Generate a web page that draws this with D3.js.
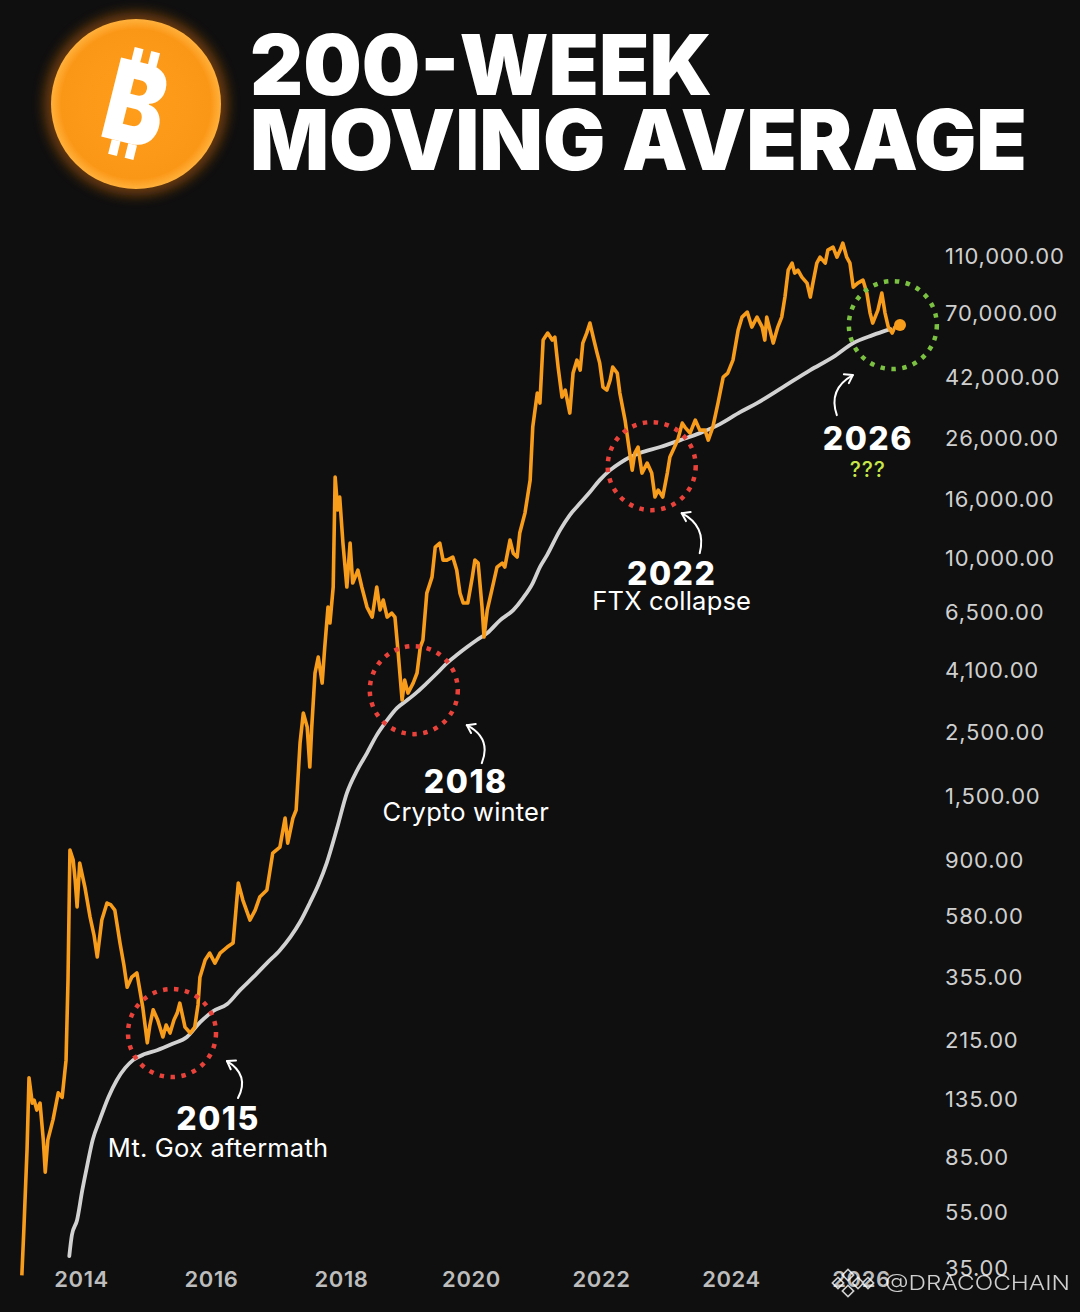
<!DOCTYPE html>
<html>
<head>
<meta charset="utf-8">
<script src="https://cdn.jsdelivr.net/npm/d3@7"></script>
<style>
html, body { margin: 0; padding: 0; background: #0f0f0f; }
svg { display: block; }
</style>
</head>
<body>
<svg id="chart" width="1080" height="1312"></svg>
<script>
// BTC price: [decimal year, USD]
var priceSeries = [
  [2013.09,33],[2013.12,47],[2013.17,90],[2013.20,159],[2013.25,130],[2013.28,133],[2013.32,123],[2013.37,130],
  [2013.42,97],[2013.45,75],[2013.49,97],[2013.57,114],[2013.65,141],[2013.71,136],[2013.77,183],[2013.80,346],
  [2013.83,974],[2013.88,899],[2013.91,767],[2013.94,619],[2013.98,878],
  [2014.06,725],[2014.14,571],[2014.20,495],[2014.25,416],[2014.32,558],[2014.40,639],[2014.46,629],[2014.52,604],
  [2014.60,465],[2014.66,390],[2014.71,327],[2014.78,354],[2014.86,366],[2014.95,279],
  [2015.02,210],[2015.06,242],[2015.11,273],[2015.18,252],[2015.26,220],[2015.31,242],[2015.37,227],[2015.43,252],
  [2015.48,266],[2015.52,288],[2015.60,238],[2015.68,227],[2015.75,238],[2015.80,284],[2015.83,354],[2015.91,406],[2015.98,429],
  [2016.06,396],[2016.14,429],[2016.25,450],[2016.34,465],[2016.42,749],[2016.49,654],[2016.60,558],[2016.68,604],
  [2016.75,670],[2016.86,709],[2016.95,951],
  [2017.06,997],[2017.14,1256],[2017.18,1029],[2017.26,1256],[2017.31,1339],[2017.37,2282],[2017.42,2896],[2017.48,2591],
  [2017.52,1885],[2017.55,2591],[2017.60,3983],[2017.65,4523],[2017.71,3677],[2017.75,4897],[2017.80,6733],[2017.83,5929],
  [2017.88,7896],[2017.91,18940],[2017.95,14570],[2017.98,16160],
  [2018.03,11200],[2018.09,7896],[2018.14,11200],[2018.18,8150],[2018.26,9036],[2018.32,7896],[2018.40,6733],[2018.48,6218],
  [2018.55,7896],[2018.60,6574],[2018.65,7118],[2018.71,6218],[2018.78,6419],[2018.83,6218],[2018.88,4669],[2018.94,3212],[2018.98,3766],
  [2019.03,3396],[2019.11,3677],[2019.17,3983],[2019.22,4897],[2019.26,5178],[2019.32,7524],[2019.40,8546],[2019.45,10850],
  [2019.52,11200],[2019.57,9784],[2019.63,9784],[2019.72,10020],[2019.78,9036],[2019.83,7524],[2019.88,6950],[2019.95,6950],
  [2020.02,8546],[2020.06,9784],[2020.11,9555],[2020.17,6733],[2020.20,5303],[2020.25,6574],[2020.32,7706],[2020.40,9254],
  [2020.48,9555],[2020.52,9254],[2020.60,11470],[2020.65,10340],[2020.71,10020],[2020.75,12130],[2020.83,14220],[2020.91,18490],[2020.95,28190],
  [2021.02,36950],[2021.06,34130],[2021.11,56330],[2021.18,59560],[2021.25,56330],[2021.29,57690],[2021.34,45430],[2021.40,35800],
  [2021.45,37840],[2021.52,31510],[2021.57,43320],[2021.63,48030],[2021.68,44370],[2021.72,55010],[2021.78,59560],[2021.83,64510],
  [2021.88,57690],[2021.94,50780],[2021.98,46920],
  [2022.03,38760],[2022.09,37840],[2022.14,40980],[2022.18,45430],[2022.25,43320],[2022.29,36950],[2022.37,29810],[2022.42,24820],
  [2022.48,20020],[2022.52,22930],[2022.57,24050],[2022.63,19550],[2022.71,21170],[2022.78,19550],[2022.83,16160],[2022.88,17080],[2022.95,16160],
  [2023.02,19550],[2023.06,22210],[2023.11,23480],[2023.18,25420],[2023.25,29100],[2023.29,28190],[2023.37,26870],[2023.45,29810],
  [2023.52,27520],[2023.60,27520],[2023.65,25420],[2023.72,28190],[2023.80,34130],[2023.88,41970],[2023.95,43320],
  [2024.03,48030],[2024.11,60990],[2024.17,67650],[2024.25,70400],[2024.32,62470],[2024.40,67650],[2024.48,62470],[2024.52,56330],
  [2024.55,67650],[2024.60,60990],[2024.65,55010],[2024.72,62470],[2024.78,67650],[2024.83,79330],[2024.88,98310],[2024.94,103900],[2024.98,95990],
  [2025.03,98310],[2025.09,92980],[2025.17,88650],[2025.22,79330],[2025.26,88650],[2025.32,103900],[2025.37,109000],[2025.45,103900],
  [2025.49,115300],[2025.57,118100],[2025.63,109000],[2025.68,115300],[2025.72,121900],[2025.78,109000],[2025.83,103900],[2025.88,85880],[2025.95,88650],
  [2026.03,90800],[2026.09,81900],[2026.14,69830],[2026.18,64510],[2026.26,71520],[2026.32,81900],[2026.37,69830],[2026.42,62470],
  [2026.48,59560],[2026.52,62470],[2026.60,63470]
];

// 200-week moving average: [decimal year, USD]
var maSeries = [
  [2013.82,38.5],[2013.86,45.5],[2013.94,51.3],[2014.02,65],[2014.09,78],[2014.18,97],[2014.29,114],[2014.42,136],
  [2014.55,156],[2014.68,172],[2014.80,183],[2014.98,192],[2015.17,198],[2015.40,208],[2015.63,220],[2015.83,247],
  [2016.03,270],[2016.25,286],[2016.45,320],[2016.65,354],[2016.86,396],[2017.06,439],[2017.22,487],[2017.37,549],
  [2017.52,639],[2017.65,737],[2017.78,878],[2017.94,1160],[2018.09,1532],[2018.25,1840],[2018.40,2106],[2018.55,2430],
  [2018.71,2738],[2018.86,3013],[2019.02,3212],[2019.17,3423],[2019.32,3677],[2019.48,3983],[2019.63,4311],[2019.78,4595],
  [2019.94,4897],[2020.09,5178],[2020.25,5473],[2020.45,6070],[2020.65,6574],[2020.80,7232],[2020.95,8150],[2021.06,9254],
  [2021.17,10180],[2021.37,12420],[2021.52,14000],[2021.68,15400],[2021.83,16810],[2021.98,18490],[2022.14,20020],[2022.29,21170],
  [2022.45,22210],[2022.60,22930],[2022.91,24050],[2023.22,25420],[2023.52,26870],[2023.83,28870],[2024.14,31760],[2024.40,34130],
  [2024.80,38760],[2025.22,44370],[2025.57,49200],[2025.88,55010],[2026.18,58620],[2026.45,61500]
];

var yTicks = [35, 55, 85, 135, 215, 355, 580, 900, 1500, 2500, 4100, 6500, 10000, 16000, 26000, 42000, 70000, 110000];
var xTicks = [2014, 2016, 2018, 2020, 2022, 2024, 2026];

// circled events
var noteYears = [2015.40, 2019.12, 2022.78, 2026.49];
var notePrices = [227, 3476, 20660, 63470];
var noteTitles = ["2015", "2018", "2022", "2026"];
var noteSubs = ["Mt. Gox aftermath", "Crypto winter", "FTX collapse", "???"];

var titleLines = ["200-WEEK", "MOVING AVERAGE"];

var svg = d3.select("#chart");
var W = 1080, H = 1312;

svg.append("rect").attr("width", W).attr("height", H).attr("fill", "#0f0f0f");

var x = d3.scaleLinear().domain([2014, 2026]).range([81, 861]);
var y = d3.scaleLog().domain([35, 110000]).range([1268, 256]);

var defs = svg.append("defs");
var glow = defs.append("filter").attr("id", "glow").attr("x", "-30%").attr("y", "-30%").attr("width", "160%").attr("height", "160%");
glow.append("feGaussianBlur").attr("stdDeviation", 6);
var coin = defs.append("radialGradient").attr("id", "coin");
coin.append("stop").attr("offset", "0%").attr("stop-color", "#ff9e1b");
coin.append("stop").attr("offset", "88%").attr("stop-color", "#fb9717");
coin.append("stop").attr("offset", "100%").attr("stop-color", "#ffb13c");

// ---- logo ----
var logo = svg.append("g").attr("transform", "translate(136,104)");
logo.append("circle").attr("r", 92).attr("fill", "#8f4c0a").attr("opacity", 0.7).attr("filter", "url(#glow)");
logo.append("circle").attr("r", 85).attr("fill", "url(#coin)");
var b = logo.append("g").attr("transform", "rotate(14)");
b.append("text")
  .attr("text-anchor", "middle")
  .attr("y", 40)
  .attr("transform", "scale(0.8,1)")
  .style("font-family", "Inter, 'DejaVu Sans', sans-serif")
  .style("font-weight", 900)
  .style("font-size", "112px")
  .attr("fill", "#ffffff")
  .text("B");
[[-15, -55], [2, -55], [-15, 40], [2, 40]].forEach(function (p) {
  b.append("rect").attr("x", p[0]).attr("y", p[1]).attr("width", 9).attr("height", 15).attr("fill", "#ffffff");
});

// ---- title ----
svg.selectAll(".title")
  .data(titleLines)
  .enter().append("text")
  .attr("class", "title")
  .attr("x", 250)
  .attr("y", function (d, i) { return 95 + i * 75; })
  .attr("textLength", function (d, i) { return i == 0 ? 462 : 777; })
  .attr("lengthAdjust", "spacingAndGlyphs")
  .style("font-family", "Inter, 'DejaVu Sans', sans-serif")
  .style("font-weight", 900)
  .style("font-size", "84px")
  .attr("fill", "#ffffff")
  .text(function (d) { return d; });

// ---- axes ----
var yAxis = d3.axisRight(y).tickValues(yTicks).tickSize(0).tickPadding(0).tickFormat(d3.format(",.2f"));
var gy = svg.append("g").attr("transform", "translate(945,0)").call(yAxis);
gy.select(".domain").remove();
gy.selectAll("text")
  .attr("dy", "0.36em")
  .attr("fill", "#cfcfcf")
  .style("font-family", "Inter, 'Liberation Sans', sans-serif")
  .style("font-size", "22px")
  .style("letter-spacing", "0.8px");

var xAxis = d3.axisBottom(x).tickValues(xTicks).tickSize(0).tickPadding(3).tickFormat(d3.format("d"));
var gx = svg.append("g").attr("transform", "translate(0,1268)").call(xAxis);
gx.select(".domain").remove();
gx.selectAll("text")
  .attr("fill", "#bdbdbd")
  .style("font-family", "Inter, 'Liberation Sans', sans-serif")
  .style("font-weight", 600)
  .style("font-size", "22px")
  .style("letter-spacing", "0.6px");

// ---- lines ----
var maLine = d3.line()
  .x(function (d) { return x(d[0]); })
  .y(function (d) { return y(d[1]); })
  .curve(d3.curveMonotoneX);

var priceLine = d3.line()
  .x(function (d) { return x(d[0]); })
  .y(function (d) { return y(d[1]); });

svg.append("path")
  .datum(maSeries)
  .attr("d", maLine)
  .attr("fill", "none")
  .attr("stroke", "#d2d2d2")
  .attr("stroke-width", 3.8)
  .attr("stroke-linecap", "round");

svg.append("path")
  .datum(priceSeries)
  .attr("d", priceLine)
  .attr("fill", "none")
  .attr("stroke", "#f89c1c")
  .attr("stroke-width", 3.6)
  .attr("stroke-linejoin", "round");

var last = priceSeries[priceSeries.length - 1];
svg.append("circle")
  .attr("cx", x(last[0]))
  .attr("cy", y(last[1]))
  .attr("r", 6)
  .attr("fill", "#f89c1c");

// ---- annotations ----
// offsets from circle centre: label x, title baseline, sub baseline, arrow start / control / end
var noteLayout = [
  { lx: 46, ty: 97, sy: 124, a: [66, 65], c: [78, 42], e: [55, 28] },
  { lx: 52, ty: 103, sy: 131, a: [68, 73], c: [78, 48], e: [53, 35] },
  { lx: 20, ty: 119, sy: 144, a: [48, 87], c: [55, 60], e: [30, 47] },
  { lx: -25, ty: 125, sy: 152, a: [-56, 90], c: [-65, 64], e: [-40, 50] }
];
var noteColors = ["#e8423b", "#e8423b", "#e8423b", "#7cc242"];

noteYears.forEach(function (yr, i) {
  var cx = x(yr), cy = y(notePrices[i]);
  var L = noteLayout[i];
  var g = svg.append("g");

  g.append("circle")
    .attr("cx", cx).attr("cy", cy).attr("r", 44)
    .attr("fill", "none")
    .attr("stroke", noteColors[i])
    .attr("stroke-width", 4.5)
    .attr("stroke-dasharray", "4.5 6.5");

  var sx = cx + L.a[0], sy = cy + L.a[1];
  var qx = cx + L.c[0], qy = cy + L.c[1];
  var ex = cx + L.e[0], ey = cy + L.e[1];
  g.append("path")
    .attr("d", "M" + sx + "," + sy + " Q" + qx + "," + qy + " " + ex + "," + ey)
    .attr("fill", "none")
    .attr("stroke", "#ffffff")
    .attr("stroke-width", 2)
    .attr("stroke-linecap", "round");
  // arrow head from tangent at the end
  var ang = Math.atan2(ey - qy, ex - qx);
  var head = [ang + Math.PI - 0.6, ang + Math.PI + 0.6].map(function (t) {
    return [ex + 9 * Math.cos(t), ey + 9 * Math.sin(t)];
  });
  g.append("path")
    .attr("d", "M" + head[0][0] + "," + head[0][1] + " L" + ex + "," + ey + " L" + head[1][0] + "," + head[1][1])
    .attr("fill", "none")
    .attr("stroke", "#ffffff")
    .attr("stroke-width", 2)
    .attr("stroke-linecap", "round")
    .attr("stroke-linejoin", "round");

  g.append("text")
    .attr("x", cx + L.lx).attr("y", cy + L.ty)
    .attr("text-anchor", "middle")
    .style("font-family", "Inter, 'DejaVu Sans', sans-serif")
    .style("font-weight", 800)
    .style("font-size", "32px")
    .style("letter-spacing", "1.5px")
    .attr("fill", "#ffffff")
    .text(noteTitles[i]);

  g.append("text")
    .attr("x", cx + L.lx).attr("y", cy + L.sy)
    .attr("text-anchor", "middle")
    .style("font-family", "Inter, 'DejaVu Sans', sans-serif")
    .style("font-weight", i == 3 ? 500 : 400)
    .style("font-size", i == 3 ? "21px" : "25.5px")
    .style("letter-spacing", i == 3 ? "1px" : "0.2px")
    .attr("fill", i == 3 ? "#c6e64a" : "#ffffff")
    .text(noteSubs[i]);
});

// ---- watermark ----
var wm = svg.append("g").attr("opacity", 0.8);
var ic = wm.append("g").attr("transform", "translate(848,1283)");
[[-10, 0], [0, -8], [0, 8], [10, 0], [20, 0]].forEach(function (p) {
  ic.append("rect")
    .attr("x", p[0] - 4).attr("y", p[1] - 4).attr("width", 8).attr("height", 8)
    .attr("transform", "rotate(45," + p[0] + "," + p[1] + ")")
    .attr("fill", "none").attr("stroke", "#ffffff").attr("stroke-width", 1.6);
});
wm.append("text")
  .attr("x", 885).attr("y", 1290)
  .attr("textLength", 185)
  .attr("lengthAdjust", "spacingAndGlyphs")
  .style("font-family", "Inter, 'DejaVu Sans', sans-serif")
  .style("font-weight", 300)
  .style("font-size", "20px")
  .attr("fill", "#ffffff")
  .text("@DRACOCHAIN");
</script>
</body>
</html>
